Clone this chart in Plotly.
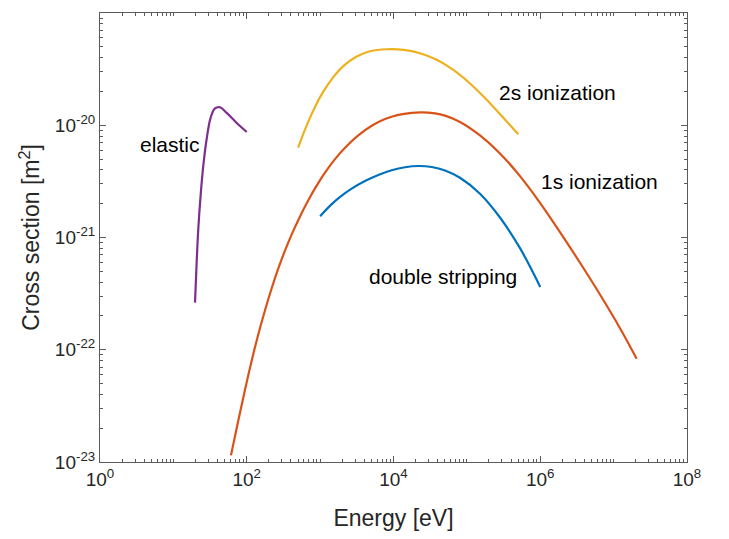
import plotly.graph_objects as go

# ---- data (log10 of energy in eV, log10 of cross section in m^2) ----
elastic_logE = [1.295, 1.318, 1.340, 1.372, 1.408, 1.454, 1.509, 1.567, 1.635, 1.727, 1.863, 2.0]
elastic_logS = [-21.58, -21.21, -20.92, -20.62, -20.36, -20.12, -19.93, -19.85, -19.84,
                -19.89, -19.98, -20.06]

ion1s_logE = [1.785, 1.885, 1.976, 2.067, 2.157, 2.249, 2.340, 2.430, 2.521, 2.613, 2.726,
              2.839, 2.953, 3.066, 3.203, 3.339, 3.520, 3.703, 3.884, 4.065, 4.248, 4.384,
              4.566, 4.702, 4.906, 5.179, 5.451, 5.724, 5.997, 6.269, 6.542, 6.814, 7.087,
              7.314]
ion1s_logS = [-22.94, -22.63, -22.357, -22.098, -21.864, -21.648, -21.452, -21.276, -21.117,
              -20.972, -20.812, -20.668, -20.538, -20.423, -20.302, -20.201, -20.091, -20.005,
              -19.945, -19.907, -19.889, -19.885, -19.894, -19.914, -19.971, -20.091, -20.251,
              -20.453, -20.691, -20.952, -21.225, -21.508, -21.808, -22.08]

ion2s_logE = [2.70, 2.817, 2.930, 3.043, 3.180, 3.316, 3.498, 3.680, 3.907, 4.134, 4.361,
              4.589, 4.815, 5.043, 5.270, 5.497, 5.70]
ion2s_logS = [-20.20, -20.001, -19.837, -19.701, -19.571, -19.473, -19.387, -19.341, -19.323,
              -19.328, -19.358, -19.417, -19.507, -19.628, -19.773, -19.934, -20.08]

ds_logE = [3.0, 3.158, 3.294, 3.430, 3.612, 3.793, 3.975, 4.157, 4.338, 4.521, 4.702, 4.906,
           5.179, 5.451, 5.724, 6.0]
ds_logS = [-20.81, -20.703, -20.627, -20.564, -20.497, -20.443, -20.401, -20.374, -20.363,
           -20.372, -20.403, -20.468, -20.61, -20.822, -21.095, -21.44]

x_major = [1, 1e2, 1e4, 1e6, 1e8]
x_major_text = ["10<sup>0</sup>", "10<sup>2</sup>", "10<sup>4</sup>",
                "10<sup>6</sup>", "10<sup>8</sup>"]
y_major = [1e-23, 1e-22, 1e-21, 1e-20, 1e-19]
y_major_text = ["10<sup>-23</sup>", "10<sup>-22</sup>", "10<sup>-21</sup>",
                "10<sup>-20</sup>", "10<sup>-19</sup>"]

label_text = ["elastic", "2s ionization", "1s ionization", "double stripping"]
label_logE = [0.954, 6.24, 6.81, 4.67]
label_logS = [-20.17, -19.71, -20.50, -21.35]

x_minor = [m * 10**d for d in range(0, 8) for m in range(1, 10) if not (m == 1 and d % 2 == 0)]
y_minor = [m * 10.0**d for d in range(-23, -19) for m in range(2, 10)]

FONT = "Liberation Sans, Arial, Helvetica, sans-serif"
AX = "#5a5a5a"
TXT = "#262626"


def lin(vals):
    return [10.0 ** v for v in vals]


fig = go.Figure()
series = [
    (ds_logE, ds_logS, "#0072BD"),
    (ion1s_logE, ion1s_logS, "#D95319"),
    (ion2s_logE, ion2s_logS, "#EDB120"),
    (elastic_logE, elastic_logS, "#7E2F8E"),
]
for xs, ys, c in series:
    fig.add_trace(go.Scatter(x=lin(xs), y=lin(ys), mode="lines",
                             line=dict(color=c, width=2.2, shape="spline", smoothing=1.0),
                             showlegend=False, hoverinfo="skip"))

for txt, lx, ly in zip(label_text, label_logE, label_logS):
    fig.add_annotation(x=lx, y=ly, xref="x", yref="y", text=txt, showarrow=False,
                       font=dict(family=FONT, size=21, color="#000000"))

axis_common = dict(
    type="log", showgrid=False, zeroline=False, showline=True, linecolor=AX,
    linewidth=1, mirror="ticks", ticks="inside", ticklen=6, tickcolor=AX,
    tickfont=dict(family=FONT, size=19, color=TXT),
)

fig.update_xaxes(**axis_common, range=[0, 8], tickmode="array", tickvals=x_major,
                 ticktext=x_major_text,
                 minor=dict(ticks="inside", ticklen=3, tickcolor=AX, tickmode="array",
                            tickvals=x_minor, showgrid=False),
                 title=dict(text="Energy [eV]", font=dict(family=FONT, size=23, color=TXT),
                            standoff=21))
fig.update_yaxes(**axis_common, range=[-23, -19], tickmode="array", tickvals=y_major,
                 ticktext=y_major_text,
                 minor=dict(ticks="inside", ticklen=3, tickcolor=AX, tickmode="array",
                            tickvals=y_minor, showgrid=False),
                 title=dict(text="Cross section [m<sup>2</sup>]",
                            font=dict(family=FONT, size=23, color=TXT), standoff=8))

fig.update_layout(width=729, height=539, margin=dict(l=100, r=42, t=12, b=73),
                  plot_bgcolor="white", paper_bgcolor="white")

fig.write_html("out.html")
